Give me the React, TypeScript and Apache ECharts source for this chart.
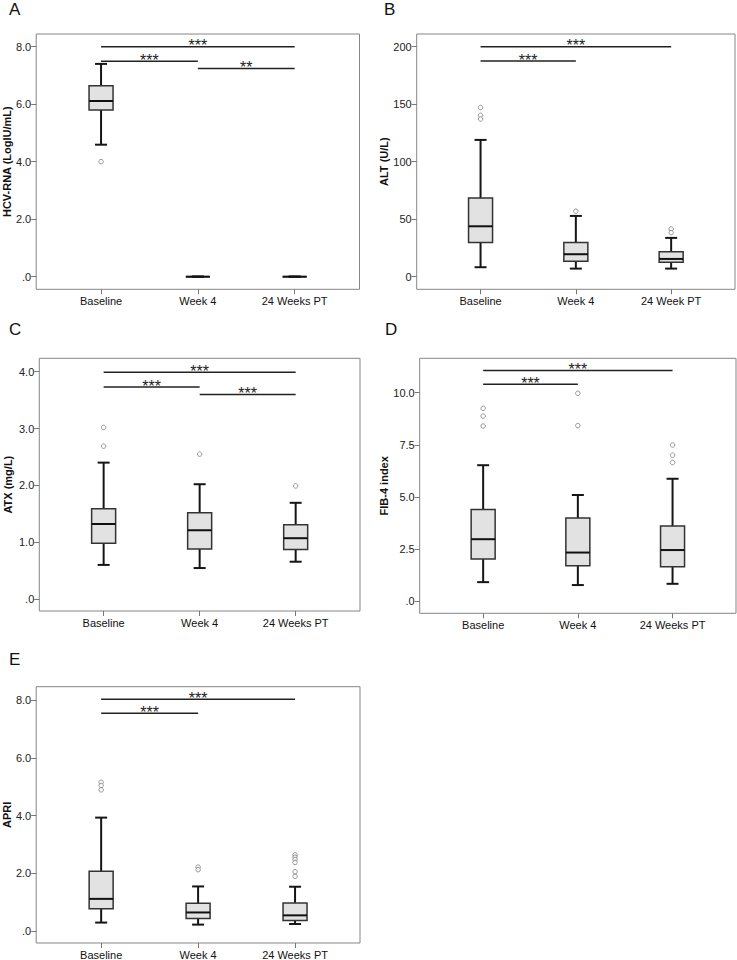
import React, { useEffect, useRef } from 'react';
import * as echarts from 'echarts';

const catsWeeks = ['Baseline', 'Week 4', '24 Weeks PT'];
const catsWeek = ['Baseline', 'Week 4', '24 Week PT'];

// each box: [min, Q1, median, Q3, max]
const boxesA = [[4.59, 5.80, 6.11, 6.64, 7.40], [0, 0, 0, 0, 0], [0, 0, 0, 0, 0]];
const outliersA = [[0, 4.0]];
const bracketsA: [number, number, number, string][] = [[0, 2, 8.0, '***'], [0, 1, 7.49, '***'], [1, 2, 7.24, '**']];
const yTicksA = [0, 2, 4, 6, 8];

const boxesB = [[8.2, 29.6, 43.8, 68.4, 118.9], [7.0, 13.4, 19.5, 29.6, 52.8], [7.0, 12.5, 15.4, 21.7, 33.7]];
const outliersB = [[0, 147], [0, 140.3], [0, 137.1], [1, 56.9], [2, 41.5], [2, 38.3]];
const bracketsB: [number, number, number, string][] = [[0, 2, 200, '***'], [0, 1, 187.5, '***']];
const yTicksB = [0, 50, 100, 150, 200];

const boxesC = [[0.60, 0.98, 1.32, 1.59, 2.40], [0.545, 0.88, 1.21, 1.52, 2.02], [0.656, 0.873, 1.07, 1.306, 1.693]];
const outliersC = [[0, 3.02], [0, 2.69], [1, 2.55], [2, 1.99]];
const bracketsC: [number, number, number, string][] = [[0, 2, 3.99, '***'], [0, 1, 3.73, '***'], [1, 2, 3.60, '***']];
const yTicksC = [0, 1, 2, 3, 4];

const boxesD = [[0.91, 2.02, 2.97, 4.40, 6.52], [0.77, 1.70, 2.33, 3.99, 5.09], [0.83, 1.65, 2.45, 3.60, 5.87]];
const outliersD = [[0, 9.25], [0, 8.88], [0, 8.40], [1, 9.97], [1, 8.42], [2, 7.49], [2, 7.0], [2, 6.65]];
const bracketsD: [number, number, number, string][] = [[0, 2, 11.07, '***'], [0, 1, 10.40, '***']];
const yTicksD = [0, 2.5, 5, 7.5, 10];

const boxesE = [[0.30, 0.78, 1.12, 2.075, 3.93], [0.23, 0.44, 0.65, 0.97, 1.55], [0.25, 0.37, 0.55, 0.98, 1.54]];
const outliersE = [[0, 5.15], [0, 5.04], [0, 4.89], [1, 2.22], [1, 2.13], [2, 2.64], [2, 2.56], [2, 2.48], [2, 2.38], [2, 2.06], [2, 1.90]];
const bracketsE: [number, number, number, string][] = [[0, 2, 8.02, '***'], [0, 1, 7.54, '***']];
const yTicksE = [0, 2, 4, 6, 8];

const FONT = '"Liberation Sans", Arial, Helvetica, sans-serif';
const BOX_W = 24;
const CAP_W = 12;

const fmt1 = (v: number) => (v === 0 ? '.0' : v.toFixed(1));
const fmt0 = (v: number) => String(Math.round(v));

const panels = [
  { letter: 'A', lx: 9, ly: 1, grid: { left: 36, top: 34, width: 323.5, height: 255.3 }, ymin: -0.44, ymax: 8.44,
    boxes: boxesA, outliers: outliersA, brackets: bracketsA, ticks: yTicksA, fmt: fmt1, cats: catsWeeks,
    name: 'HCV-RNA (LogIU/mL)', nameGap: 21 },
  { letter: 'B', lx: 384, ly: 1, grid: { left: 416.7, top: 34, width: 318.3, height: 255.3 }, ymin: -11, ymax: 211,
    boxes: boxesB, outliers: outliersB, brackets: bracketsB, ticks: yTicksB, fmt: fmt0, cats: catsWeek,
    name: 'ALT (U/L)', nameGap: 27.5 },
  { letter: 'C', lx: 9, ly: 321, grid: { left: 39.3, top: 358.3, width: 320.7, height: 252.7 }, ymin: -0.211, ymax: 4.236,
    boxes: boxesC, outliers: outliersC, brackets: bracketsC, ticks: yTicksC, fmt: fmt1, cats: catsWeeks,
    name: 'ATX (mg/L)', nameGap: 26 },
  { letter: 'D', lx: 385, ly: 321, grid: { left: 419.7, top: 358.3, width: 316.3, height: 255 }, ymin: -0.585, ymax: 11.65,
    boxes: boxesD, outliers: outliersD, brackets: bracketsD, ticks: yTicksD, fmt: fmt1, cats: catsWeeks,
    name: 'FIB-4 index', nameGap: 30 },
  { letter: 'E', lx: 9, ly: 651, grid: { left: 36, top: 686.7, width: 324, height: 257.8 }, ymin: -0.406, ymax: 8.457,
    boxes: boxesE, outliers: outliersE, brackets: bracketsE, ticks: yTicksE, fmt: fmt1, cats: catsWeeks,
    name: 'APRI', nameGap: 20.5 },
];

const renderBox = (_params: any, api: any) => {
  const x = api.value(0);
  const lo = api.coord([x, api.value(1)]);
  const q1 = api.coord([x, api.value(2)]);
  const md = api.coord([x, api.value(3)]);
  const q3 = api.coord([x, api.value(4)]);
  const hi = api.coord([x, api.value(5)]);
  const cx = lo[0];
  const hw = BOX_W / 2;
  const cw = CAP_W / 2;
  const wl = { stroke: '#151515', lineWidth: 2 };
  return {
    type: 'group',
    children: [
      { type: 'line', shape: { x1: cx, y1: q3[1], x2: cx, y2: hi[1] }, style: wl },
      { type: 'line', shape: { x1: cx, y1: q1[1], x2: cx, y2: lo[1] }, style: wl },
      { type: 'line', shape: { x1: cx - cw, y1: hi[1], x2: cx + cw, y2: hi[1] }, style: wl },
      { type: 'line', shape: { x1: cx - cw, y1: lo[1], x2: cx + cw, y2: lo[1] }, style: wl },
      { type: 'rect', shape: { x: cx - hw, y: q3[1], width: BOX_W, height: q1[1] - q3[1] },
        style: { fill: '#e2e2e2', stroke: '#333333', lineWidth: 1.5 } },
      { type: 'line', shape: { x1: cx - hw, y1: md[1], x2: cx + hw, y2: md[1] }, style: { stroke: '#111111', lineWidth: 2 } },
    ],
  };
};

const makeBracketRenderer = (brackets: [number, number, number, string][]) => (params: any, api: any) => {
  const y = api.value(2);
  const p0 = api.coord([api.value(0), y]);
  const p1 = api.coord([api.value(1), y]);
  const mid = (p0[0] + p1[0]) / 2;
  const text = brackets[params.dataIndex][3];
  return {
    type: 'group',
    children: [
      { type: 'line', shape: { x1: p0[0], y1: p0[1], x2: p1[0], y2: p1[1] }, style: { stroke: '#222222', lineWidth: 1.5 } },
      { type: 'text', x: mid, y: p0[1] - 1,
        style: { text, fill: '#222222', font: `16px ${FONT}`, align: 'center', verticalAlign: 'middle',
          textAlign: 'center', textVerticalAlign: 'middle' } },
    ],
  };
};

export default function App() {
  const ref = useRef<HTMLDivElement>(null);
  useEffect(() => {
    if (!ref.current) return;
    const chart = echarts.init(ref.current, undefined, { renderer: 'svg' });
    const grids: any[] = [];
    const xAxes: any[] = [];
    const yAxes: any[] = [];
    const series: any[] = [];
    const titles: any[] = [];
    panels.forEach((p, i) => {
      titles.push({ text: p.letter, left: p.lx, top: p.ly, padding: 0,
        textStyle: { fontSize: 17, fontWeight: 'normal', color: '#111', fontFamily: FONT } });
      grids.push({ ...p.grid, show: true, borderColor: '#858585', borderWidth: 1, backgroundColor: 'transparent', containLabel: false });
      const xVals = p.cats.map((_c, k) => k);
      xAxes.push({
        gridIndex: i, type: 'value', min: -0.67, max: 2.67,
        axisLine: { show: false, onZero: false },
        splitLine: { show: false },
        axisTick: { show: true, length: 5, customValues: xVals, lineStyle: { color: '#777', width: 1 } },
        axisLabel: { show: true, customValues: xVals, formatter: (v: number) => p.cats[Math.round(v)] ?? '',
          margin: 6, fontSize: 11, color: '#111', fontFamily: FONT },
      });
      yAxes.push({
        gridIndex: i, type: 'value', min: p.ymin, max: p.ymax,
        axisLine: { show: false, onZero: false },
        splitLine: { show: false },
        axisTick: { show: true, length: 5, customValues: p.ticks, lineStyle: { color: '#777', width: 1 } },
        axisLabel: { show: true, customValues: p.ticks, formatter: (v: number) => p.fmt(v),
          margin: 5, fontSize: 11, color: '#222', fontFamily: FONT },
        name: p.name, nameLocation: 'middle', nameGap: p.nameGap,
        nameTextStyle: { fontSize: 11, fontWeight: 'bold', color: '#111', fontFamily: FONT },
      });
      series.push({
        type: 'custom', xAxisIndex: i, yAxisIndex: i, renderItem: renderBox,
        encode: { x: 0, y: [1, 2, 3, 4, 5] },
        data: p.boxes.map((b, k) => [k, ...b]),
      });
      series.push({
        type: 'scatter', xAxisIndex: i, yAxisIndex: i, symbol: 'circle', symbolSize: 4.5,
        itemStyle: { color: '#ffffff', borderColor: '#707070', borderWidth: 0.9 },
        data: p.outliers,
      });
      series.push({
        type: 'custom', xAxisIndex: i, yAxisIndex: i, renderItem: makeBracketRenderer(p.brackets),
        encode: { x: [0, 1], y: 2 },
        data: p.brackets.map((b) => [b[0], b[1], b[2]]),
      });
    });
    chart.setOption({
      animation: false,
      backgroundColor: '#ffffff',
      title: titles,
      grid: grids,
      xAxis: xAxes,
      yAxis: yAxes,
      series,
    });
    return () => chart.dispose();
  }, []);
  return <div ref={ref} style={{ position: 'absolute', left: 0, top: 0, width: 737, height: 960, background: '#fff' }} />;
}
